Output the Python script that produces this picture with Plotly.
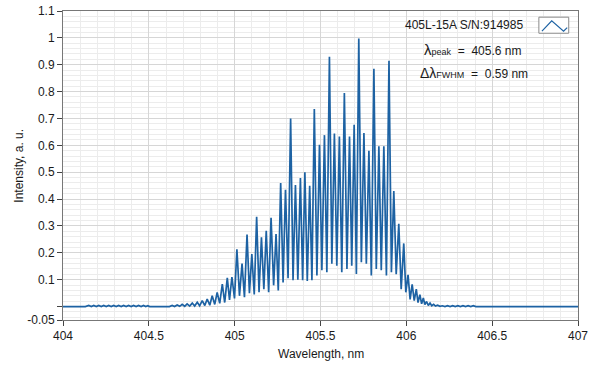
import plotly.graph_objects as go

# Spectrum: wavelength (nm) and normalised intensity (a.u.)
wavelength_nm = [
    404.000, 404.130,
    404.150, 404.165, 404.179, 404.194, 404.208, 404.223, 404.237, 404.252, 404.266, 404.281,
    404.295, 404.310, 404.324, 404.339, 404.353, 404.368, 404.382, 404.397, 404.411, 404.426,
    404.440, 404.455, 404.469, 404.482, 404.494, 404.505, 404.620,
    404.636, 404.650, 404.665, 404.680, 404.694, 404.709, 404.723, 404.738, 404.753, 404.767,
    404.782, 404.796, 404.811, 404.826, 404.840, 404.855, 404.869, 404.884, 404.898, 404.913,
    404.928, 404.942, 404.957, 404.970, 404.984, 404.999, 405.013, 405.028, 405.043, 405.057,
    405.072, 405.086, 405.100, 405.114, 405.128, 405.142, 405.156, 405.170, 405.184, 405.198,
    405.212, 405.227, 405.241, 405.254, 405.268, 405.282, 405.296, 405.311, 405.326, 405.340,
    405.354, 405.368, 405.383, 405.396, 405.409, 405.423, 405.437, 405.450, 405.464, 405.479,
    405.494, 405.508, 405.523, 405.537, 405.552, 405.566, 405.581, 405.595, 405.610, 405.624,
    405.639, 405.654, 405.669, 405.682, 405.696, 405.709, 405.723, 405.738, 405.753, 405.767,
    405.782, 405.796, 405.811, 405.825, 405.840, 405.854, 405.869, 405.884, 405.899, 405.913,
    405.927, 405.941, 405.956, 405.970, 405.985, 405.997, 406.010, 406.022, 406.034, 406.046,
    406.058, 406.068, 406.079, 406.089, 406.099, 406.108, 406.118, 406.128, 406.138, 406.148,
    406.159, 406.170, 406.182, 406.196,
    406.210, 406.225, 406.240, 406.255, 406.270, 406.285, 406.300, 406.315, 406.330, 406.345,
    406.360, 406.375, 406.390, 406.405, 406.420,
    407.000,
]

intensity_au = [
    0.000, 0.000,
    0.004, 0.000, 0.004, 0.000, 0.004, 0.000, 0.004, 0.000, 0.004, 0.000,
    0.004, 0.000, 0.004, 0.000, 0.004, 0.000, 0.004, 0.000, 0.004, 0.000,
    0.004, 0.000, 0.004, 0.000, 0.003, 0.000, 0.000,
    0.004, 0.000, 0.006, 0.001, 0.008, 0.001, 0.010, 0.002, 0.013, 0.002,
    0.016, 0.003, 0.022, 0.004, 0.028, 0.005, 0.040, 0.008, 0.053, 0.012,
    0.084, 0.015, 0.107, 0.025, 0.110, 0.030, 0.213, 0.040, 0.160, 0.035,
    0.268, 0.050, 0.195, 0.045, 0.334, 0.053, 0.258, 0.065, 0.282, 0.053,
    0.330, 0.079, 0.270, 0.060, 0.460, 0.090, 0.435, 0.105, 0.700, 0.098,
    0.452, 0.100, 0.478, 0.098, 0.500, 0.095, 0.450, 0.098, 0.735, 0.116,
    0.602, 0.135, 0.638, 0.128, 0.930, 0.159, 0.644, 0.152, 0.633, 0.128,
    0.795, 0.140, 0.633, 0.152, 0.677, 0.121, 0.998, 0.165, 0.646, 0.159,
    0.580, 0.116, 0.885, 0.140, 0.597, 0.135, 0.597, 0.116, 0.915, 0.128,
    0.430, 0.120, 0.308, 0.065, 0.235, 0.053, 0.118, 0.027, 0.083, 0.022,
    0.065, 0.015, 0.044, 0.010, 0.032, 0.007, 0.019, 0.004, 0.013, 0.003,
    0.008, 0.002, 0.005, 0.001,
    0.003, 0.000, 0.003, 0.000, 0.003, 0.000, 0.003, 0.000, 0.003, 0.000,
    0.003, 0.000, 0.003, 0.000, 0.000,
    0.000,
]

x_tick_vals = [404, 404.5, 405, 405.5, 406, 406.5, 407]
x_tick_text = ["404", "404.5", "405", "405.5", "406", "406.5", "407"]
y_tick_vals = [-0.05, 0, 0.1, 0.2, 0.3, 0.4, 0.5, 0.6, 0.7, 0.8, 0.9, 1.0, 1.1]
y_tick_text = ["-0.05", "", "0.1", "0.2", "0.3", "0.4", "0.5", "0.6", "0.7", "0.8", "0.9", "1", "1.1"]

series_name = "405L-15A S/N:914985"
LINE = "#1d62a3"
FONT = "Liberation Sans"
TXT = "#1a1a1a"

fig = go.Figure()
fig.add_trace(go.Scatter(
    x=wavelength_nm, y=intensity_au, mode="lines", name=series_name,
    line=dict(color=LINE, width=1.7), showlegend=False, hoverinfo="skip",
))

fig.update_layout(
    width=599, height=370,
    margin=dict(l=63, r=21, t=11, b=50, autoexpand=False),
    paper_bgcolor="white", plot_bgcolor="white",
    font=dict(family=FONT, size=12, color=TXT),
    hovermode=False,
)
fig.update_xaxes(
    range=[404, 407], tickmode="array", tickvals=x_tick_vals, ticktext=x_tick_text,
    ticks="outside", ticklen=5, tickcolor="#444", tickwidth=1, automargin=False,
    showline=True, linecolor="#777", linewidth=1, mirror=True,
    showgrid=True, gridcolor="#d6d6d6", gridwidth=1, zeroline=False,
    minor=dict(tickmode="linear", tick0=404, dtick=0.1, showgrid=True,
               gridcolor="#ececec", gridwidth=1, ticks=""),
    tickfont=dict(family=FONT, size=12, color=TXT),
)
fig.update_yaxes(
    range=[-0.05, 1.1], tickmode="array", tickvals=y_tick_vals, ticktext=y_tick_text,
    ticks="outside", ticklen=5, tickcolor="#444", tickwidth=1, automargin=False,
    showline=True, linecolor="#777", linewidth=1, mirror=True,
    showgrid=True, gridcolor="#d6d6d6", gridwidth=1, zeroline=False,
    minor=dict(tickmode="linear", tick0=0, dtick=0.02, showgrid=True,
               gridcolor="#ececec", gridwidth=1, ticks=""),
    tickfont=dict(family=FONT, size=12, color=TXT),
)

# axis titles
fig.add_annotation(text="Wavelength, nm", xref="paper", yref="paper", x=0.5, y=-0.081,
                   yanchor="top", showarrow=False, font=dict(family=FONT, size=12, color=TXT))
fig.add_annotation(text="Intensity, a. u.", xref="paper", yref="paper", x=-0.087, y=0.5,
                   textangle=-90, xanchor="center", yanchor="middle", showarrow=False,
                   font=dict(family=FONT, size=12, color=TXT))

# legend block (text on the left, line sample in a small box on the right)
fig.add_annotation(text=series_name, xref="paper", yref="paper", x=0.898, y=0.955,
                   xanchor="right", yanchor="middle", showarrow=False,
                   font=dict(family=FONT, size=12, color=TXT))
fig.add_shape(type="rect", xref="paper", yref="paper", x0=0.924, x1=0.982, y0=0.928, y1=0.98,
              line=dict(color="#8a8a8a", width=1), fillcolor="white")
fig.add_shape(type="path", xref="paper", yref="paper",
              path="M 0.93 0.935 L 0.949 0.968 L 0.972 0.935 L 0.979 0.946",
              line=dict(color=LINE, width=1.2))
fig.add_annotation(text="<span style='font-size:15px'>λ</span><span style='font-size:9px'>peak</span>&nbsp; = &nbsp;405.6 nm",
                   xref="paper", yref="paper", x=0.697, y=0.876, xanchor="left", yanchor="middle",
                   showarrow=False, font=dict(family=FONT, size=12, color=TXT))
fig.add_annotation(text="<span style='font-size:14px'>Δλ</span><span style='font-size:9px'>FWHM</span>&nbsp; = &nbsp;0.59 nm",
                   xref="paper", yref="paper", x=0.690, y=0.798, xanchor="left", yanchor="middle",
                   showarrow=False, font=dict(family=FONT, size=12, color=TXT))

# remove the browser's default 8px body margin so the figure fills the window exactly
fig.write_html("out.html", config={"displayModeBar": False, "staticPlot": True},
               post_script="document.body.style.margin='0px';")
